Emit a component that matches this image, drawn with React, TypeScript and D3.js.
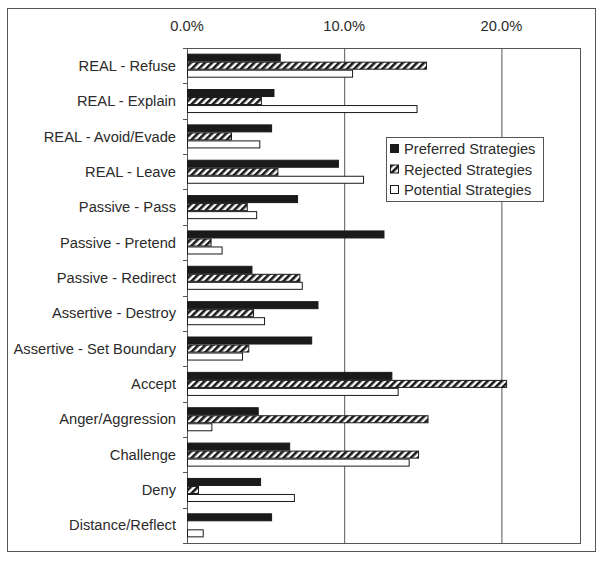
import React from "react";
import * as d3 from "d3";

const categories = [
  "REAL - Refuse",
  "REAL - Explain",
  "REAL - Avoid/Evade",
  "REAL - Leave",
  "Passive - Pass",
  "Passive - Pretend",
  "Passive - Redirect",
  "Assertive - Destroy",
  "Assertive - Set Boundary",
  "Accept",
  "Anger/Aggression",
  "Challenge",
  "Deny",
  "Distance/Reflect",
];

const preferred = [5.9, 5.5, 5.35, 9.6, 7.0, 12.5, 4.1, 8.3, 7.9, 13.0, 4.5, 6.5, 4.65, 5.35];
const rejected = [15.2, 4.7, 2.8, 5.75, 3.8, 1.5, 7.15, 4.2, 3.9, 20.3, 15.3, 14.7, 0.7, 0];
const potential = [10.5, 14.6, 4.6, 11.2, 4.4, 2.2, 7.3, 4.9, 3.5, 13.4, 1.55, 14.1, 6.8, 1.0];

const seriesNames = ["Preferred Strategies", "Rejected Strategies", "Potential Strategies"];
const xTicks = [0, 10, 20];

const W = 604;
const H = 561;
const plot = { left: 187, right: 580, top: 48, bottom: 543 };
const font = "Arial, 'Liberation Sans', sans-serif";
const ink = "#1a1a1a";
const textInk = "#2b2b2b";
const lineGray = "#555";
const fs = 14.7;

export default function App() {
  const x = d3.scaleLinear().domain([0, 25]).range([plot.left, plot.right]);
  const y = d3
    .scaleBand<string>()
    .domain(categories)
    .range([plot.top, plot.bottom])
    .paddingInner(0.32)
    .paddingOuter(0.16);
  const sub = d3.scaleBand<number>().domain([0, 1, 2]).range([0, y.bandwidth()]);
  const all = [preferred, rejected, potential];
  const fills = [ink, "url(#hatch)", "#fff"];

  const fmt = d3.format(".1f");

  return (
    <svg
      width={W}
      height={H}
      style={{ position: "absolute", left: 0, top: 0, background: "#fff" }}
      fontFamily={font}
    >
      <defs>
        <pattern id="hatch" patternUnits="userSpaceOnUse" width="5" height="5" patternTransform="rotate(45)">
          <rect width="5" height="5" fill="#fff" />
          <rect width="2.6" height="5" fill={ink} />
        </pattern>
      </defs>

      {/* outer frame */}
      <rect x={7.5} y={8.5} width={588} height={543} fill="#fff" stroke={lineGray} />

      {/* grid */}
      {xTicks.map((t) => (
        <g key={t}>
          {t > 0 && (
            <line x1={x(t) + 0.5} x2={x(t) + 0.5} y1={plot.top} y2={plot.bottom} stroke={lineGray} />
          )}
          <text x={x(t)} y={31} textAnchor="middle" fontSize={fs} fill={textInk}>
            {fmt(t)}%
          </text>
        </g>
      ))}

      {/* plot border */}
      <rect
        x={plot.left + 0.5}
        y={plot.top + 0.5}
        width={plot.right - plot.left}
        height={plot.bottom - plot.top}
        fill="none"
        stroke={lineGray}
      />

      {/* category ticks */}
      {d3.range(categories.length + 1).map((i) => {
        const yy = Math.round(plot.top + i * y.step()) + 0.5;
        return <line key={i} x1={plot.left - 4} x2={plot.left} y1={yy} y2={yy} stroke={lineGray} />;
      })}

      {/* bars */}
      {categories.map((c, i) => (
        <g key={c} transform={`translate(0,${y(c)})`}>
          {all.map((s, k) =>
            s[i] > 0 ? (
              <rect
                key={k}
                x={x(0) + 0.5}
                y={(sub(k) as number) + 0.5}
                width={x(s[i]) - x(0)}
                height={sub.bandwidth() - 1}
                fill={fills[k]}
                stroke={ink}
                strokeWidth={1}
              />
            ) : null
          )}
          <text
            x={plot.left - 11}
            y={y.bandwidth() / 2}
            dy="0.35em"
            textAnchor="end"
            fontSize={fs}
            fill={textInk}
          >
            {c}
          </text>
        </g>
      ))}

      {/* legend */}
      <g transform="translate(386,137)">
        <rect x={0.5} y={0.5} width={157} height={64} fill="#fff" stroke={lineGray} />
        {seriesNames.map((n, k) => (
          <g key={n} transform={`translate(0,${12 + k * 20.5})`}>
            <rect x={4.5} y={-4.5} width={8} height={8} fill={fills[k]} stroke={ink} />
            <text x={18} y={0} dy="0.35em" fontSize={fs} fill={textInk}>
              {n}
            </text>
          </g>
        ))}
      </g>
    </svg>
  );
}
